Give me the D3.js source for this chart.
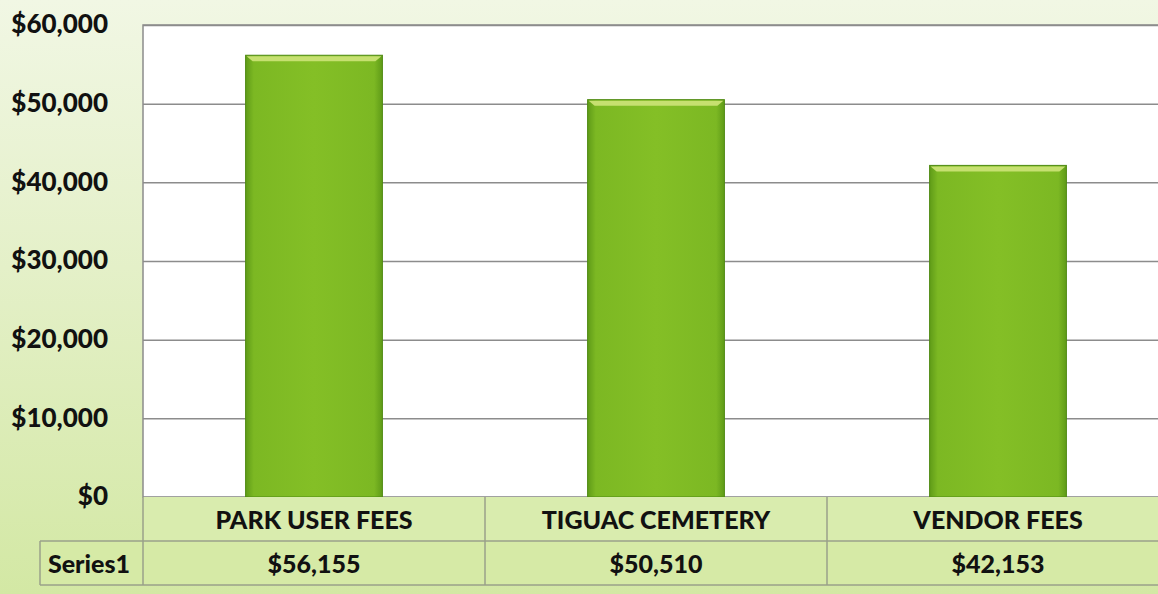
<!DOCTYPE html>
<html>
<head>
<meta charset="utf-8">
<script src="https://cdn.jsdelivr.net/npm/d3@7"></script>
<style>
  body { margin: 0; overflow: hidden; }
  svg { display: block; }
</style>
</head>
<body>
<svg id="chart"></svg>
<script>
// data
const categories = ["PARK USER FEES", "TIGUAC CEMETERY", "VENDOR FEES"];
const values = [56155, 50510, 42153];
const valueLabels = ["$56,155", "$50,510", "$42,153"];
const seriesName = "Series1";
const yTicks = [0, 10000, 20000, 30000, 40000, 50000, 60000];

const WIDTH = 1158, HEIGHT = 594;
const PLOT = { left: 143, right: 1169, top: 25, bottom: 497 };
const ROW_H = 44;
const FONT = "Lato, 'Open Sans', sans-serif";

const svg = d3.select("#chart").attr("width", WIDTH).attr("height", HEIGHT);
const defs = svg.append("defs");

// background, pale green fading to white-ish at the top
const bg = defs.append("linearGradient").attr("id", "bg")
  .attr("x1", 0).attr("y1", 0).attr("x2", 0).attr("y2", 1);
bg.append("stop").attr("offset", "0%").attr("stop-color", "#f1f7e4");
bg.append("stop").attr("offset", "45%").attr("stop-color", "#e4f0c8");
bg.append("stop").attr("offset", "100%").attr("stop-color", "#d3e8a4");
svg.append("rect").attr("width", WIDTH).attr("height", HEIGHT).attr("fill", "url(#bg)");

// bar gradient: darker at the sides
const barGrad = defs.append("linearGradient").attr("id", "barGrad")
  .attr("x1", 0).attr("y1", 0).attr("x2", 1).attr("y2", 0);
barGrad.append("stop").attr("offset", "0%").attr("stop-color", "#5f9b18");
barGrad.append("stop").attr("offset", "6%").attr("stop-color", "#7cb823");
barGrad.append("stop").attr("offset", "50%").attr("stop-color", "#84bf26");
barGrad.append("stop").attr("offset", "94%").attr("stop-color", "#7cb823");
barGrad.append("stop").attr("offset", "100%").attr("stop-color", "#5f9b18");

const x = d3.scaleBand()
  .domain(categories)
  .range([PLOT.left, PLOT.right])
  .paddingInner(0.6)
  .paddingOuter(0.3);

// columns of the data table share the same categories, no padding
const col = d3.scaleBand().domain(categories).range([PLOT.left, PLOT.right]);

const y = d3.scaleLinear().domain([0, 60000]).range([PLOT.bottom, PLOT.top]);

// plot area
svg.append("rect")
  .attr("x", PLOT.left).attr("y", PLOT.top)
  .attr("width", PLOT.right - PLOT.left).attr("height", PLOT.bottom - PLOT.top)
  .attr("fill", "#ffffff").attr("stroke", "#8c8c8c").attr("stroke-width", 1.5);

// gridlines
svg.append("g")
  .attr("transform", `translate(${PLOT.left},0)`)
  .call(d3.axisLeft(y).tickValues(yTicks).tickSize(-(PLOT.right - PLOT.left)).tickFormat(""))
  .call(g => g.select(".domain").remove())
  .call(g => g.selectAll("line").attr("stroke", "#8c8c8c").attr("stroke-width", 1.5));

// y tick labels
svg.append("g")
  .attr("transform", `translate(108,0)`)
  .call(d3.axisLeft(y).tickValues(yTicks).tickSize(0).tickPadding(0)
    .tickFormat(d => "$" + d3.format(",")(d)))
  .call(g => g.select(".domain").remove())
  .call(g => g.selectAll("text")
    .attr("font-family", FONT).attr("font-weight", 900)
    .attr("font-size", 26).attr("fill", "#111").attr("dy", "0.3em"));

// bars
const bars = svg.append("g").selectAll("g")
  .data(categories)
  .join("g");

bars.append("rect")
  .attr("x", d => x(d))
  .attr("y", (d, i) => y(values[i]))
  .attr("width", x.bandwidth())
  .attr("height", (d, i) => y(0) - y(values[i]))
  .attr("fill", "url(#barGrad)")
  .attr("stroke", "#4f8a12").attr("stroke-width", 1);

// light bevel along the top of each bar
bars.append("path")
  .attr("d", (d, i) => {
    const x0 = x(d), x1 = x(d) + x.bandwidth(), t = y(values[i]);
    return `M${x0 + 1},${t + 1}L${x1 - 1},${t + 1}L${x1 - 7},${t + 6}L${x0 + 7},${t + 6}Z`;
  })
  .attr("fill", "#c6e070");

// data table
const table = svg.append("g");
const tableStroke = "#9aa08a";
const row1 = PLOT.bottom, row2 = PLOT.bottom + ROW_H, row3 = PLOT.bottom + 2 * ROW_H;

table.append("rect")
  .attr("x", PLOT.left).attr("y", row1)
  .attr("width", PLOT.right - PLOT.left).attr("height", ROW_H)
  .attr("fill", "#d9ecae");
table.append("rect")
  .attr("x", 40).attr("y", row2)
  .attr("width", PLOT.right - 40).attr("height", ROW_H)
  .attr("fill", "#d6eaa6");

table.append("line").attr("x1", 40).attr("x2", PLOT.right).attr("y1", row2).attr("y2", row2);
table.append("line").attr("x1", 40).attr("x2", PLOT.right).attr("y1", row3).attr("y2", row3);
table.append("line").attr("x1", 40).attr("x2", 40).attr("y1", row2).attr("y2", row3);
table.append("line").attr("x1", PLOT.left).attr("x2", PLOT.left).attr("y1", row1).attr("y2", row3);
table.selectAll(".vline")
  .data(categories.slice(1))
  .join("line")
  .attr("class", "vline")
  .attr("x1", d => col(d)).attr("x2", d => col(d))
  .attr("y1", row1).attr("y2", row3);
table.selectAll("line").attr("stroke", tableStroke).attr("stroke-width", 1.5);

table.selectAll(".cat")
  .data(categories)
  .join("text")
  .attr("class", "cat")
  .attr("x", d => col(d) + col.bandwidth() / 2)
  .attr("y", row1 + ROW_H / 2)
  .text(d => d);

table.selectAll(".val")
  .data(valueLabels)
  .join("text")
  .attr("class", "val")
  .attr("x", (d, i) => col(categories[i]) + col.bandwidth() / 2)
  .attr("y", row2 + ROW_H / 2)
  .text(d => d);

table.append("text")
  .attr("x", 89).attr("y", row2 + ROW_H / 2)
  .text(seriesName);

table.selectAll("text")
  .attr("font-family", FONT).attr("font-weight", 900)
  .attr("font-size", 25).attr("fill", "#111")
  .attr("text-anchor", "middle").attr("dominant-baseline", "central");
</script>
</body>
</html>
